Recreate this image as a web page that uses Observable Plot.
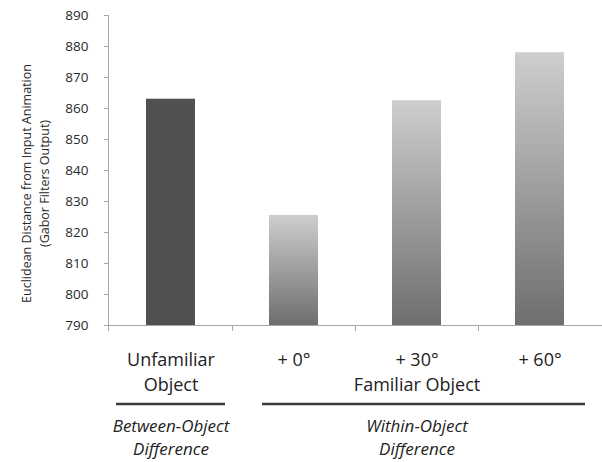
<!DOCTYPE html>
<html>
<head>
<meta charset="utf-8">
<script src="https://cdn.jsdelivr.net/npm/d3@7"></script>
<script src="https://cdn.jsdelivr.net/npm/@observablehq/plot@0.6"></script>
<style>
  html, body { margin: 0; padding: 0; background: #fff; }
  svg { display: block; }
</style>
</head>
<body>
<div id="chart"></div>
<script>
// ---- data ----
const keys = ["unfamiliar", "p0", "p30", "p60"];
const labels = ["Unfamiliar\nObject", "+ 0°", "+ 30°", "+ 60°"];
const values = [863, 825.5, 862.5, 878];
const yTicks = [790, 800, 810, 820, 830, 840, 850, 860, 870, 880, 890];
const yTitle = "Euclidean Distance from Input Animation\n(Gabor Filters Output)";
const subLabelKeys = ["p30"];
const subLabels = ["Familiar Object"];
const groupKeys = ["unfamiliar", "p30"];
const groupLabels = ["Between-Object\nDifference", "Within-Object\nDifference"];
const groupFrom = ["unfamiliar", "p0"];
const groupTo = ["unfamiliar", "p60"];

const data = keys.map((k, i) => {
  const j = subLabelKeys.indexOf(k);
  return {key: k, label: j >= 0 ? labels[i] + "\n" + subLabels[j] : labels[i], value: values[i]};
});
const groupData = groupKeys.map((k, i) => ({key: k, label: groupLabels[i], from: groupFrom[i], to: groupTo[i]}));

const font = "'Open Sans', sans-serif";

const chart = Plot.plot({
  width: 602,
  height: 462,
  marginLeft: 108,
  marginRight: 0,
  marginTop: 15,
  marginBottom: 137,
  style: {fontFamily: font, background: "white", overflow: "visible"},
  x: {domain: keys, paddingInner: 0.6, paddingOuter: 0.3, axis: null},
  y: {domain: [790, 890], axis: null},
  marks: [
    () => {
      const defs = d3.create("svg:defs");
      const g = defs.append("linearGradient").attr("id", "barGrad")
        .attr("x1", 0).attr("y1", 0).attr("x2", 0).attr("y2", 1);
      g.append("stop").attr("offset", "0%").attr("stop-color", "#cecece");
      g.append("stop").attr("offset", "100%").attr("stop-color", "#6e6e6e");
      return defs.node();
    },
    Plot.barY(data.slice(0, 1), {x: "key", y1: 790, y2: "value", fill: "#505050"}),
    Plot.barY(data.slice(1), {x: "key", y1: 790, y2: "value", fill: "url(#barGrad)"}),
    Plot.ruleY([790], {stroke: "#a8a8a8", strokeWidth: 1}),
    Plot.axisY({ticks: yTicks, tickSize: 4, text: null, stroke: "#a8a8a8", label: null}),
    Plot.axisY({ticks: yTicks, tickSize: 0, tickPadding: 20, fill: "#2a2a2a", fontSize: 13.5, label: null}),
    Plot.text([yTitle], {frameAnchor: "left", rotate: -90, dx: -74, dy: 13, fontSize: 12.5,
      fill: "#2a2a2a", textAnchor: "middle", lineAnchor: "middle", lineHeight: 1.45}),
    Plot.text(data, {x: "key", text: "label", frameAnchor: "bottom", lineAnchor: "top",
      dy: 23, fontSize: 18, lineHeight: 1.37, fill: "#222"}),
    Plot.text(groupData, {x: "key", text: "label", frameAnchor: "bottom", lineAnchor: "top",
      dy: 91, fontSize: 17, lineHeight: 1.32, fontStyle: "italic", fill: "#222"})
  ]
});

// axis line / ticks / group rules via the Plot x scale
const xs = chart.scale("x");
const step = xs.step;
const bw = xs.bandwidth;
const bandStart = k => xs.apply(k) - (step - bw) / 2;
const bandEnd = k => bandStart(k) + step;
const svg = d3.select(chart);
const y0 = chart.scale("y").apply(790);
// left axis line extended slightly downward
svg.append("line").attr("x1", 108.5).attr("x2", 108.5)
  .attr("y1", chart.scale("y").apply(890)).attr("y2", y0 + 6)
  .attr("stroke", "#a8a8a8");
keys.slice(1).forEach(k => {
  const x = Math.round(bandStart(k)) + 0.5;
  svg.append("line").attr("x1", x).attr("x2", x).attr("y1", y0).attr("y2", y0 + 6)
    .attr("stroke", "#a8a8a8");
});
const insets = [[7, 7], [30, 16]];
groupData.forEach((g, i) => {
  svg.append("line")
    .attr("x1", bandStart(g.from) + insets[i][0])
    .attr("x2", bandEnd(g.to) - insets[i][1])
    .attr("y1", y0 + 79).attr("y2", y0 + 79)
    .attr("stroke", "#3a3a3a").attr("stroke-width", 2.5);
});

document.getElementById("chart").appendChild(chart);
</script>
</body>
</html>
